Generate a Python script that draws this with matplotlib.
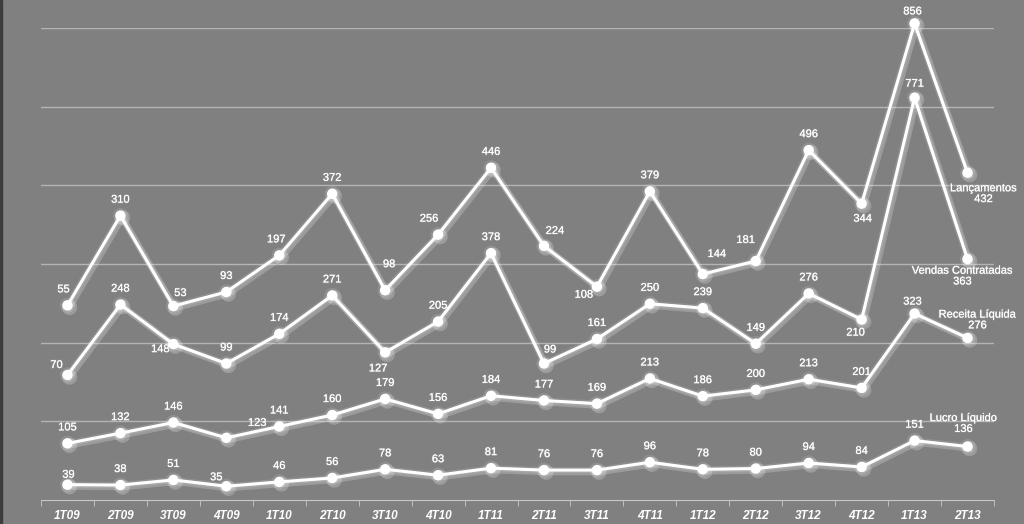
import matplotlib
matplotlib.use("Agg")
import matplotlib.pyplot as plt
import matplotlib.patheffects as pe
import numpy as np

plt.rcParams["font.family"] = ["Liberation Sans", "DejaVu Sans"]

quarters = ["1T09", "2T09", "3T09", "4T09", "1T10", "2T10", "3T10", "4T10", "1T11",
            "2T11", "3T11", "4T11", "1T12", "2T12", "3T12", "4T12", "1T13", "2T13"]
lancamentos = [55, 310, 53, 93, 197, 372, 98, 256, 446, 224, 108, 379, 144, 181, 496, 344, 856, 432]
vendas = [70, 248, 148, 99, 174, 271, 127, 205, 378, 99, 161, 250, 239, 149, 276, 210, 771, 363]
receita = [105, 132, 146, 123, 141, 160, 179, 156, 184, 177, 169, 213, 186, 200, 213, 201, 323, 276]
lucro = [39, 38, 51, 35, 46, 56, 78, 63, 81, 76, 76, 96, 78, 80, 94, 84, 151, 136]

# label offsets in pixels (dx, dy), default is straight above the point
lanc_off = {0: (-4, 16), 2: (7, 13), 4: (-3, 16), 6: (4, 26), 7: (-9, 16), 9: (11, 15),
            10: (-13, -8), 12: (14, 20), 13: (-10, 21), 15: (1, -15), 16: (-2, 12)}
vend_off = {0: (-11, 10), 2: (-13, -5), 6: (-7, -16), 9: (6, 14), 15: (-6, -13), 16: (0, 14)}
rec_off = {3: (31, 15), 16: (-2, 12)}
luc_off = {0: (1, 10), 3: (-10, 9)}

BG = "#808080"
x = np.arange(len(quarters))

fig = plt.figure(figsize=(10.24, 5.24), dpi=100, facecolor=BG)
ax = fig.add_axes([41 / 1024, 24 / 524, 953 / 1024, 472 / 524])
ax.set_facecolor(BG)
ax.set_xlim(-0.5, len(quarters) - 0.5)
ax.set_ylim(0, 1200)
ax.set_yticks(np.arange(200, 1201, 200))
ax.yaxis.grid(True, color="#b4b4b4", lw=1)
ax.tick_params(axis="y", length=0, labelleft=False)
ax.set_axisbelow(True)
for s in ["top", "right", "left"]:
    ax.spines[s].set_visible(False)
ax.spines["bottom"].set_color("#c8c8c8")
ax.set_xticks(x)
ax.set_xticklabels(quarters, color="white", fontsize=8.5, fontweight="bold", style="italic")
ax.set_xticks(np.arange(-0.5, len(quarters)), minor=True)
ax.tick_params(axis="x", which="major", length=0, pad=7)
ax.tick_params(axis="x", which="minor", length=4, color="#c8c8c8", direction="out")

# separate scales, as in the original spreadsheet chart
ax_lanc = ax.twinx()
ax_lanc.set_ylim(-498, 843)
ax_vend = ax.twinx()
ax_vend.set_ylim(-246, 947)
for a in (ax_lanc, ax_vend):
    a.set_axis_off()

glow = [pe.SimpleLineShadow(offset=(1.5, -1.5), shadow_color="white", alpha=0.22, linewidth=4.5),
        pe.Stroke(linewidth=4.5, foreground="white", alpha=0.12),
        pe.Normal()]
txt_glow = [pe.withStroke(linewidth=1.2, foreground=(1, 1, 1, 0.12))]


def draw(axis, yplot, values, offsets):
    axis.plot(x, yplot, color="white", lw=2.2, marker="o", ms=6.5, mec="white",
              mfc="white", clip_on=False, zorder=5, path_effects=glow)
    for i, v in enumerate(values[:-1]):
        dx, dy = offsets.get(i, (0, 16))
        axis.annotate(str(v), (x[i], yplot[i]), xytext=(dx, dy), textcoords="offset pixels",
                      ha="center", va="center", color="white", fontsize=8,
                      annotation_clip=False, path_effects=txt_glow)


draw(ax_lanc, lancamentos, lancamentos, lanc_off)
draw(ax_vend, vendas, vendas, vend_off)
receita_stack = np.add(receita, lucro)
draw(ax, receita_stack, receita, rec_off)
draw(ax, lucro, lucro, luc_off)

# series names with last value
end_labels = [
    (ax_lanc, lancamentos, lancamentos[-1], "Lançamentos", (16, -21)),
    (ax_vend, vendas, vendas[-1], "Vendas Contratadas", (-5, -17)),
    (ax, receita_stack, receita[-1], "Receita Líquida", (10, 18)),
    (ax, lucro, lucro[-1], "Lucro Líquido", (-4, 23)),
]
for axis, yv, last, name, (dx, dy) in end_labels:
    axis.annotate(f"{name}\n{last}", (x[-1], yv[-1]), xytext=(dx, dy), textcoords="offset pixels",
                  ha="center", va="center", color="white", fontsize=8, linespacing=1.1,
                  annotation_clip=False, path_effects=txt_glow)

fig.patches.append(plt.Rectangle((0, 0), 2 / 1024, 1, transform=fig.transFigure,
                                 color="#3c3c3c", zorder=0))

fig.savefig("out.png", dpi=100, facecolor=BG)
